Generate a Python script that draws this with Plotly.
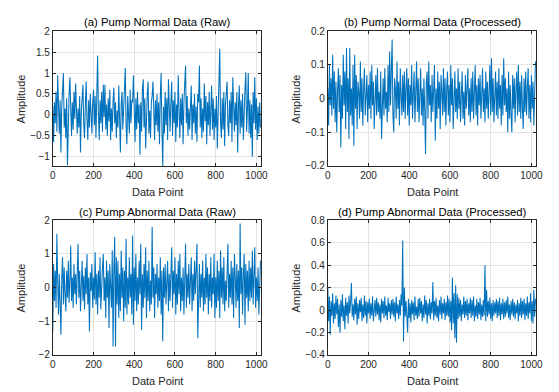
import plotly.graph_objects as go

# ---------------- data (every 4th data point) ----------------
n_points = 256
step = 4
data_point = [i * step for i in range(n_points)]

normal_raw = [
    0.20, -0.65, 0.30, -0.20, 0.55, -0.40, 0.95, 0.10,
    -0.45, 0.35, -0.90, 0.20, 0.60, 1.00, -0.30, 0.15,
    -0.55, 0.40, -1.20, 0.10, 0.50, 0.90, -0.20, -0.50,
    0.30, -0.35, 0.55, -0.10, 0.75, 0.20, -0.45, 0.15,
    -0.30, 0.45, -0.90, 0.05, 0.40, 0.72, -0.25, -0.55,
    0.25, 0.80, -0.10, -0.60, 0.35, -0.30, 0.50, -0.15,
    -0.45, 0.30, 0.60, -0.25, 0.45, -0.55, 0.20, 1.42,
    0.05, -0.60, 0.35, -0.20, 0.55, -0.40, 0.72, -0.05,
    0.72, -0.35, 0.25, -0.50, 0.40, -0.15, 0.60, -0.60,
    0.15, -0.40, 0.35, 0.65, -0.20, 0.30, -0.55, 0.10,
    -0.30, 0.70, -0.10, -0.90, 0.25, 0.55, -0.35, 0.20,
    0.40, 1.12, -0.25, -0.70, 0.45, 0.05, -0.45, 0.60,
    -0.20, 0.35, 0.30, 0.95, -0.10, -0.65, 0.40, -0.35,
    0.55, -0.20, 0.25, -0.95, 0.30, -0.40, 0.60, 0.85,
    -0.30, 0.40, -0.80, 0.20, 0.50, 0.80, -0.45, 0.10,
    -0.55, 0.30, 0.45, 0.80, -0.15, -0.60, 0.35, -0.25,
    0.50, -0.40, 0.30, -0.70, 0.45, 1.00, -0.35, -1.22,
    0.20, -0.45, 0.55, -0.25, 0.40, -0.60, 0.85, 0.05,
    -0.40, 0.30, 0.80, -0.50, 0.35, -0.20, 0.55, -0.65,
    0.25, -0.30, 0.95, 0.10, -0.55, 0.40, -0.25, 0.50,
    -0.70, 0.30, 0.60, 1.18, -0.20, 0.45, -0.50, 0.15,
    -0.35, 0.40, 0.70, -0.60, 0.25, -0.20, 0.50, -0.45,
    0.20, -0.65, 0.50, 0.30, 1.18, -0.30, 0.40, -0.55,
    0.15, -0.40, 0.75, -0.15, 0.45, -0.70, 0.30, -0.25,
    0.55, -0.50, 0.20, 0.70, -0.35, 0.40, -0.60, 0.15,
    -0.30, 0.45, -0.80, 0.30, 0.60, 1.58, -0.20, -0.55,
    0.40, -0.35, 0.55, -0.75, 0.25, 0.60, 0.80, -0.25,
    -0.50, 0.35, -0.20, 0.55, -0.65, 0.90, 0.10, -0.40,
    0.30, -0.25, 0.55, -0.90, 0.20, 0.70, -0.45, 0.35,
    -0.30, 0.50, -0.60, 0.25, 0.65, 1.02, -0.40, 0.15,
    1.00, -0.45, 0.35, -0.55, 0.25, -1.00, 0.55, -0.20,
    0.90, -0.35, 0.40, -0.60, 0.20, -0.45, 0.30, -0.30,
]

normal_processed = [
    0.03, -0.08, 0.10, -0.02, 0.06, -0.05, 0.13, -0.03, 0.08, -0.07, 0.05, -0.10, 0.02, 0.09, -0.04, 0.07,
    -0.145, 0.04, -0.06, 0.13, -0.02, 0.08, -0.09, 0.15, -0.04, 0.06, -0.12, 0.15, -0.05, 0.03, -0.08, 0.10,
    -0.14, 0.13, -0.03, 0.07, -0.09, 0.05, 0.02, -0.06, 0.11, -0.04, 0.06, -0.08, 0.03, 0.09, -0.05, 0.01,
    0.07, -0.07, 0.04, -0.03, 0.08, -0.06, 0.10, -0.02, 0.05, -0.09, 0.03, 0.07, -0.05, 0.09, -0.04, 0.02,
    -0.06, 0.08, -0.12, 0.04, 0.06, -0.05, 0.09, -0.03, 0.02, -0.07, 0.10, -0.04, 0.14, -0.02, 0.07, 0.175,
    -0.05, -0.10, 0.06, 0.03, -0.06, 0.11, -0.03, 0.05, -0.08, 0.09, 0.01, -0.05, 0.07, -0.04, 0.08, -0.06,
    0.03, 0.09, -0.05, 0.06, -0.08, 0.04, -0.02, 0.10, -0.06, 0.05, 0.08, -0.07, 0.02, 0.11, -0.04, 0.06,
    -0.07, 0.04, 0.09, -0.05, 0.03, -0.08, 0.06, -0.03, -0.165, 0.05, 0.08, -0.06, 0.11, -0.02, 0.04, -0.07,
    0.07, -0.04, 0.06, 0.10, -0.125, 0.03, -0.06, 0.08, -0.03, 0.05, -0.09, 0.07, 0.02, -0.05, 0.09, -0.04,
    0.06, -0.08, 0.03, 0.08, -0.05, 0.04, -0.07, 0.10, -0.02, 0.06, -0.09, 0.05, 0.08, -0.04, 0.03, -0.06,
    0.09, -0.03, 0.05, -0.07, 0.04, 0.08, -0.06, 0.02, -0.08, 0.07, -0.03, 0.05, 0.09, -0.05, 0.03, -0.07,
    0.06, -0.04, 0.08, -0.06, 0.03, 0.10, -0.05, 0.04, -0.08, 0.06, -0.02, 0.07, -0.06, 0.05, 0.09, -0.04,
    0.03, -0.07, 0.08, -0.03, 0.05, -0.06, 0.04, 0.10, -0.05, 0.12, -0.04, 0.06, -0.07, 0.03, 0.08, -0.05,
    0.05, -0.06, 0.09, -0.03, 0.04, -0.08, 0.07, -0.05, 0.12, -0.02, 0.06, -0.04, 0.03, -0.10, 0.08, -0.06,
    0.04, -0.05, -0.10, 0.07, -0.03, 0.06, -0.07, 0.03, 0.08, -0.05, 0.10, -0.04, 0.05, -0.06, 0.07, -0.03,
    -0.09, 0.06, -0.04, 0.08, -0.05, 0.03, 0.09, -0.06, 0.04, -0.07, 0.07, -0.03, 0.05, -0.08, 0.02, 0.11,
]

abnormal_raw = [
    -1.30, 0.70, -0.40, 0.50, -0.60, 1.60, 0.20, -0.80,
    0.40, -0.30, -1.40, 0.30, 0.90, -0.50, 0.60, -0.20,
    -0.70, 0.50, -0.30, 0.80, -0.45, 0.20, 1.25, -0.40,
    0.30, -0.60, 0.70, -0.20, 0.40, -0.50, 0.60, 1.30,
    -0.30, 0.50, -0.70, 0.20, 0.80, -0.40, 0.35, -0.65,
    0.60, -0.20, 1.00, -0.50, 0.30, -1.30, 0.45, -0.10,
    0.70, -0.60, 0.30, -0.35, 1.05, -0.50, 0.40, -0.80,
    0.50, -0.30, 0.90, -0.65, 0.20, 0.60, 1.00, -0.40,
    0.30, -0.90, 0.80, -0.30, 0.50, -1.20, 0.70, 0.10,
    -0.60, 1.10, -1.75, 0.60, 1.50, -1.75, 0.90, -0.50,
    0.80, -0.90, 0.40, -0.70, 1.10, -0.30, 0.60, -1.00,
    0.50, -0.60, 1.45, -0.80, 0.30, -0.50, 0.90, -0.30,
    0.40, -0.80, 1.55, -1.10, 0.60, -0.40, 1.00, -0.70,
    0.30, -0.50, 0.80, -0.20, 1.30, -1.25, 0.40, -0.60,
    0.70, -0.30, 1.20, -0.90, 0.50, -0.40, 0.80, -0.70,
    0.20, -0.50, 1.80, -0.30, 0.60, -0.90, 0.40, -0.20,
    0.70, -0.60, 0.30, -0.40, 0.90, -0.80, 0.50, -1.60,
    0.60, -0.30, 0.70, -0.50, 0.20, 0.80, -0.70, 0.40,
    -0.40, 0.30, 1.20, -0.60, 0.50, -0.20, 0.90, -0.80,
    0.40, -0.50, 0.80, -0.20, 1.00, -0.70, 0.30, -0.40,
    0.60, -0.80, 0.50, 1.30, -0.60, 0.40, -0.30, 0.70,
    -0.50, 0.30, 0.90, -0.70, 0.40, -0.40, 0.80, -0.20,
    0.50, 1.30, -1.50, 0.30, 0.70, -0.60, 0.40, -0.30,
    0.80, -0.70, 0.30, -0.50, 1.00, -0.30, 0.60, -0.80,
    0.40, -0.40, 0.90, -0.60, 0.30, -0.20, 1.00, -0.90,
    0.30, -0.60, 0.80, -0.40, 0.50, -0.90, 1.10, -0.30,
    0.60, -0.50, 0.90, -0.70, 0.20, -0.40, 0.70, 1.30,
    -0.60, 0.40, -0.30, 0.80, -0.50, 0.60, -0.90, 1.00,
    0.30, -0.60, 0.70, -0.40, 0.50, -1.20, 1.90, -0.20,
    0.60, -0.80, 0.40, 1.00, -1.10, 0.70, -0.30, 0.50,
    -0.70, 0.80, -0.40, 0.60, -0.30, 1.10, -0.50, 0.40,
    1.20, -0.60, 0.30, -0.40, 0.60, -0.80, 0.20, 0.80,
]

abnormal_processed = [
    0.20, -0.10, 0.12, -0.22, 0.08, -0.05, 0.15, -0.12, 0.06, -0.08, 0.13, -0.04, 0.10, -0.15, 0.05, -0.20,
    0.09, -0.06, 0.14, -0.10, 0.04, -0.17, 0.11, -0.05, 0.07, -0.12, 0.13, -0.03, 0.08, 0.24, -0.06, 0.05,
    -0.09, 0.10, -0.04, 0.12, -0.13, 0.06, -0.08, 0.09, -0.02, 0.11, -0.10, 0.05, -0.07, 0.13, -0.05, 0.08,
    -0.12, 0.07, -0.03, 0.10, -0.08, 0.06, -0.05, 0.12, -0.10, 0.04, 0.09, -0.06, 0.11, -0.04, 0.07, -0.09,
    0.05, -0.11, 0.10, -0.03, 0.08, -0.07, 0.12, -0.05, 0.04, -0.09, 0.11, -0.02, 0.06, -0.08, 0.09, -0.04,
    0.10, -0.06, 0.07, -0.10, 0.12, -0.03, 0.05, -0.08, 0.09, -0.05, 0.14, 0.04, 0.62, -0.28, 0.20, -0.06,
    0.08, -0.05, -0.20, 0.10, -0.07, 0.06, -0.11, 0.09, -0.04, 0.07, -0.09, 0.12, -0.05, 0.03, -0.08, 0.10,
    -0.06, 0.11, -0.03, 0.08, -0.10, 0.05, -0.07, 0.13, -0.04, 0.09, -0.12, 0.06, -0.05, 0.10, -0.08, 0.07,
    -0.03, 0.25, -0.09, 0.08, -0.05, 0.11, -0.07, 0.04, -0.10, 0.09, -0.04, 0.12, -0.08, 0.06, -0.03, 0.10,
    -0.09, 0.07, -0.05, 0.13, -0.06, 0.10, -0.11, 0.08, -0.18, 0.29, -0.12, 0.15, -0.25, 0.22, -0.29, 0.14,
    -0.08, 0.11, -0.06, 0.09, -0.10, 0.05, -0.04, 0.12, -0.07, 0.08, -0.05, 0.10, -0.09, 0.06, -0.03, 0.11,
    -0.07, 0.09, -0.05, 0.12, -0.10, 0.04, -0.06, 0.10, -0.08, 0.07, -0.04, 0.11, -0.09, 0.05, -0.06, 0.09,
    -0.05, 0.40, -0.10, 0.18, -0.06, 0.08, -0.04, 0.11, -0.08, 0.06, -0.10, 0.09, -0.05, 0.07, -0.03, 0.10,
    -0.07, 0.08, -0.05, 0.11, -0.09, 0.06, -0.04, 0.10, -0.08, 0.07, -0.06, 0.09, -0.03, 0.12, -0.07, 0.05,
    -0.09, 0.08, -0.04, 0.10, -0.06, 0.07, -0.08, 0.05, -0.03, 0.09, -0.10, 0.06, -0.05, 0.11, -0.07, 0.08,
    -0.04, 0.10, -0.09, 0.06, -0.05, 0.12, -0.08, 0.07, -0.03, 0.15, -0.10, 0.08, -0.12, 0.18, -0.06, 0.10,
]

titles = [
    "(a) Pump Normal Data (Raw)",
    "(b) Pump Normal Data (Processed)",
    "(c) Pump Abnormal Data (Raw)",
    "(d) Pump Abnormal Data (Processed)",
]
series = [normal_raw, normal_processed, abnormal_raw, abnormal_processed]
y_ranges = [[-1.22, 2], [-0.2, 0.2], [-2, 2], [-0.4, 0.8]]
y_dticks = [0.5, 0.1, 1, 0.2]
x_ticks = [0, 200, 400, 600, 800, 1000]
x_range = [0, 1024]
x_label = "Data Point"
y_label = "Amplitude"

# ---------------- layout geometry ----------------
W, H = 559, 392
x_doms = [[50.7 / W, 263 / W], [330.7 / W, 543 / W]]
y_doms = [[1 - 165 / H, 1 - 26 / H], [1 - 360 / H, 1 - 221 / H]]

LINE_COLOR = "#0072BD"
AX_COLOR = "#262626"
GRID_COLOR = "#e3e3e3"
FONT = "Liberation Sans, Arial, sans-serif"

fig = go.Figure()
layout = dict(
    width=W, height=H,
    margin=dict(l=0, r=0, t=0, b=0),
    paper_bgcolor="white", plot_bgcolor="white",
    showlegend=False,
    font=dict(family=FONT, size=10, color=AX_COLOR),
)
annotations = []

for k in range(4):
    row, col = divmod(k, 2)
    idx = "" if k == 0 else str(k + 1)
    xa, ya = "x" + idx, "y" + idx
    fig.add_trace(go.Scatter(
        x=data_point, y=series[k], mode="lines",
        line=dict(color=LINE_COLOR, width=1.05),
        xaxis=xa, yaxis=ya, hoverinfo="skip",
    ))
    common = dict(
        showline=True, linecolor=AX_COLOR, linewidth=0.8, mirror="ticks",
        ticks="inside", ticklen=3, tickwidth=0.8, tickcolor=AX_COLOR,
        showgrid=True, gridcolor=GRID_COLOR, gridwidth=1,
        zeroline=False, tickfont=dict(family=FONT, size=10, color=AX_COLOR),
    )
    layout["xaxis" + idx] = dict(
        domain=x_doms[col], range=x_range, tickvals=x_ticks,
        anchor=ya, **common,
    )
    layout["yaxis" + idx] = dict(
        domain=y_doms[row], range=y_ranges[k], dtick=y_dticks[k], tick0=0,
        anchor=xa, **common,
    )
    xc = (x_doms[col][0] + x_doms[col][1]) / 2
    top_px = 26 if row == 0 else 221
    bot_px = 165 if row == 0 else 360
    # title
    annotations.append(dict(
        text=titles[k], xref="paper", yref="paper", x=xc, y=1 - (top_px - 9) / H,
        xanchor="center", yanchor="middle", showarrow=False,
        font=dict(family=FONT, size=11.3, color="#000000"),
    ))
    # x label
    annotations.append(dict(
        text=x_label, xref="paper", yref="paper", x=xc, y=1 - (bot_px + 26.5) / H,
        xanchor="center", yanchor="middle", showarrow=False,
        font=dict(family=FONT, size=11, color=AX_COLOR),
    ))
    # y label
    yc = 1 - ((top_px + bot_px) / 2) / H
    annotations.append(dict(
        text=y_label, xref="paper", yref="paper",
        x=(x_doms[col][0] * W - 32.5) / W, y=yc,
        xanchor="center", yanchor="middle", showarrow=False, textangle=-90,
        font=dict(family=FONT, size=11, color=AX_COLOR),
    ))

layout["annotations"] = annotations
fig.update_layout(**layout)
fig.write_html("out.html")
